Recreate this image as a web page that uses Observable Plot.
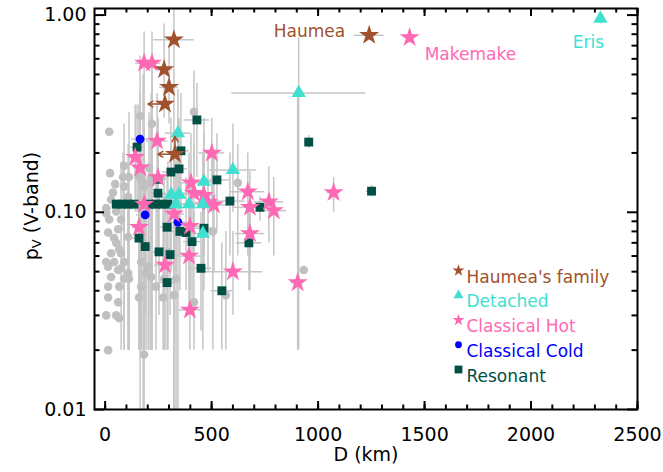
<!DOCTYPE html>
<html><head><meta charset="utf-8">
<script src="https://cdn.jsdelivr.net/npm/d3@7"></script>
<script src="https://cdn.jsdelivr.net/npm/@observablehq/plot@0.6"></script>
<style>body{margin:0;background:#fff;} svg{display:block}</style>
</head><body><div id="chart"></div>
<script>
// ---------- colours ----------
const BROWN = "#a0522d", TURQ = "#40e0d0", PINK = "#ff69b4", BLUE = "#0000ff", DKGREEN = "#005046", GREY = "#c0c0c0", ERR = "#c6c6c6";

// ---------- grey (background) sample ----------
const gD  = [19,164,220,417,23,89,47,112,216,37,108,178,623,206,84,28,159,183,89,5,19,75,61,42,108,28,66,14,75,108,28,89,14,61,52,14,183,169,216,239,277,333,417,506,567,933,216,169,202,5,52,14,52,75,5,42,89,61,112,14,66,66,5,159,272,323,169,192,295];
const gPv = [0.256,0.308,0.281,0.323,0.158,0.172,0.139,0.151,0.151,0.126,0.120,0.143,0.141,0.168,0.151,0.116,0.151,0.135,0.135,0.105,0.092,0.092,0.082,0.074,0.075,0.062,0.065,0.053,0.052,0.049,0.047,0.046,0.037,0.035,0.030,0.020,0.019,0.042,0.047,0.042,0.046,0.046,0.035,0.080,0.038,0.051,0.141,0.073,0.053,0.099,0.101,0.079,0.070,0.062,0.056,0.056,0.056,0.051,0.046,0.042,0.042,0.029,0.030,0.037,0.037,0.038,0.056,0.049,0.063];
const gLo = [null,0.09,0.02,0.12,null,0.10,null,0.02,0.02,null,0.04,0.01,0.06,0.02,0.08,null,0.02,0.02,null,null,null,0.02,null,null,0.02,null,null,null,null,0.02,null,0.02,null,null,null,null,0.01,0.02,0.02,0.02,0.02,0.01,0.02,0.02,0.02,null,0.03,0.02,0.02,null,null,null,null,null,null,null,0.02,null,0.02,null,null,null,null,0.02,0.02,0.01,0.02,0.02,0.02];
const gHi = [null,0.62,0.62,0.52,null,0.28,null,0.32,0.40,null,0.22,0.50,0.22,0.32,0.20,null,0.35,0.26,null,null,null,0.18,null,null,0.16,null,null,null,null,0.10,null,0.10,null,null,null,null,0.20,0.12,0.15,0.14,0.15,0.15,0.10,0.20,0.08,null,0.30,0.20,0.15,null,null,null,null,null,null,null,0.12,null,0.12,null,null,null,null,0.10,0.12,0.10,0.15,0.14,0.18];

// ---------- Haumea's family ----------
const hfD     = [1240, 323, 277, 300, 281, 328];
const hfPv    = [0.79, 0.75, 0.53, 0.43, 0.354, 0.197];
const hfDerr  = [70, 95, 40, 45, 0, 0];
const hfLo    = [0.74, 0.01, 0.30, 0.28, null, null];
const hfHi    = [0.84, 1.20, 0.90, 0.70, null, null];
const hfLimit = ["", "", "", "", "D", "D+pv"];

// ---------- Detached ----------
const dtD    = [2326, 909, 342, 464, 600, 310, 347, 333, 394, 459, 459];
const dtPv   = [0.96, 0.403, 0.252, 0.143, 0.164, 0.123, 0.123, 0.110, 0.110, 0.110, 0.078];
const dtDerr = [12, 314, 60, 60, 110, 50, 50, 60, 70, 80, 60];
const dtLo   = [0.90, 0.02, 0.14, 0.07, 0.10, 0.05, 0.06, 0.05, 0.05, 0.05, 0.02];
const dtHi   = [1.02, 0.77, 0.42, 0.30, 0.28, 0.22, 0.22, 0.20, 0.20, 0.20, 0.15];

// ---------- Classical Hot ----------
const chD    = [1430, 183, 220, 244, 501, 141, 164, 403, 670, 1073, 417, 464, 680, 769, 792, 511, 159, 398, 394, 281, 398, 680, 600, 904, 183, 483, 323, 248];
const chPv   = [0.77, 0.571, 0.571, 0.23, 0.20, 0.19, 0.168, 0.141, 0.127, 0.126, 0.125, 0.122, 0.106, 0.113, 0.102, 0.109, 0.084, 0.085, 0.060, 0.054, 0.032, 0.078, 0.050, 0.044, 0.110, 0.112, 0.098, 0.150];
const chDerr = [20, 40, 40, 50, 60, 30, 30, 50, 80, 30, 60, 60, 80, 70, 60, 70, 30, 60, 60, 50, 50, 70, 140, 30, 40, 60, 50, 40];
const chLo   = [0.72, 0.02, 0.02, 0.10, 0.10, 0.10, 0.08, 0.07, 0.06, 0.10, 0.06, 0.06, 0.06, 0.07, 0.06, 0.05, 0.04, 0.04, 0.03, 0.02, 0.02, 0.04, 0.03, 0.02, 0.04, 0.05, 0.02, 0.06];
const chHi   = [0.82, 0.82, 0.82, 0.40, 0.30, 0.35, 0.30, 0.25, 0.20, 0.15, 0.22, 0.25, 0.16, 0.17, 0.15, 0.20, 0.15, 0.16, 0.11, 0.12, 0.06, 0.12, 0.08, 0.40, 0.20, 0.20, 0.20, 0.30];

// ---------- Classical Cold ----------
const ccD    = [164, 188, 342];
const ccPv   = [0.235, 0.097, 0.089];
const ccDerr = [40, 40, 60];
const ccLo   = [0.01, 0.05, 0.01];
const ccHi   = [0.40, 0.16, 0.30];

// ---------- Resonant ----------
const rsD    = [431, 356, 150, 309, 347, 248, 525, 248, 956, 1251, 52, 80, 108, 136, 211, 239, 267, 295, 586, 727, 291, 351, 380, 464, 408, 159, 188, 253, 305, 450, 291, 548, 675];
const rsPv   = [0.294, 0.205, 0.214, 0.160, 0.166, 0.147, 0.146, 0.125, 0.227, 0.128, 0.11, 0.11, 0.11, 0.11, 0.11, 0.11, 0.11, 0.11, 0.114, 0.106, 0.084, 0.080, 0.079, 0.083, 0.071, 0.074, 0.067, 0.063, 0.061, 0.052, 0.044, 0.040, 0.070];
const rsDerr = [60, 40, 30, 40, 40, 40, 60, 40, 20, 25, 0, 0, 0, 0, 0, 0, 0, 0, 70, 40, 40, 40, 40, 50, 40, 30, 30, 40, 40, 50, 40, 50, 60];
const rsLo   = [0.15, 0.10, 0.10, 0.08, 0.08, 0.08, 0.08, 0.06, 0.21, 0.12, null, null, null, null, null, null, null, null, 0.06, 0.09, 0.04, 0.04, 0.04, 0.04, 0.03, 0.03, 0.03, 0.03, 0.03, 0.025, 0.02, 0.02, 0.04];
const rsHi   = [0.45, 0.40, 0.35, 0.30, 0.30, 0.30, 0.25, 0.25, 0.245, 0.137, null, null, null, null, null, null, null, null, 0.20, 0.12, 0.16, 0.15, 0.15, 0.15, 0.14, 0.14, 0.13, 0.12, 0.12, 0.10, 0.09, 0.07, 0.11];

// ---------- labels / ticks ----------
const legendLabels  = ["Haumea's family", "Detached", "Classical Hot", "Classical Cold", "Resonant"];
const legendSymbols = ["star", "triangle", "star", "circle", "square"];
const legendColors  = [BROWN, TURQ, PINK, BLUE, DKGREEN];
const legendR       = [3.8, 3.7, 3.8, 3.4, 4.4];
const namedObjects  = [
  {name: "Haumea",   D: hfD[0],  pv: hfPv[0], color: BROWN, anchor: "end",    dx: -24, dy: -4},
  {name: "Makemake", D: chD[0],  pv: chPv[0], color: PINK,  anchor: "start",  dx: 15,  dy: 17},
  {name: "Eris",     D: dtD[0],  pv: dtPv[0], color: TURQ,  anchor: "middle", dx: -12, dy: 24}
];
const xMajor = [0, 500, 1000, 1500, 2000, 2500];
const xMinor = d3.range(0, 2501, 100);
const yMajor = [0.01, 0.1, 1];
const yMinor = [0.02,0.03,0.04,0.05,0.06,0.07,0.08,0.09,0.2,0.3,0.4,0.5,0.6,0.7,0.8,0.9];
const xLabel = "D (km)";

// ---------- layout ----------
const W = 663, H = 472, ML = 94, MR = 26, MT = 8, MB = 63;
const PW = W - ML - MR, PH = H - MT - MB;

// ---------- build tables ----------
function rows(D, pv, Derr, lo, hi) {
  return D.map((d, i) => ({D: d, pv: pv[i], Derr: Derr ? Derr[i] : 0, lo: lo[i], hi: hi[i]}));
}
const grey = rows(gD, gPv, null, gLo, gHi);
const haumea = rows(hfD, hfPv, hfDerr, hfLo, hfHi).map((r, i) => ({...r, limit: hfLimit[i]}));
const detached = rows(dtD, dtPv, dtDerr, dtLo, dtHi);
const hot = rows(chD, chPv, chDerr, chLo, chHi);
const cold = rows(ccD, ccPv, ccDerr, ccLo, ccHi);
const reson = rows(rsD, rsPv, rsDerr, rsLo, rsHi);
const all = [...grey, ...haumea, ...detached, ...hot, ...cold, ...reson];
const errH = all.filter(r => r.Derr > 0);
const errV = all.filter(r => r.lo != null);

const FONT = "'DejaVu Sans', sans-serif";
const TK = {stroke: "black", strokeWidth: 2};

// inward ticks on all four sides, drawn as rules trimmed with insets
const ticksX = (vals, len) => [
  Plot.ruleX(vals, {x: d => d, insetTop: PH - len, ...TK}),
  Plot.ruleX(vals, {x: d => d, insetBottom: PH - len, ...TK})
];
const ticksY = (vals, len) => [
  Plot.ruleY(vals, {y: d => d, insetRight: PW - len, ...TK}),
  Plot.ruleY(vals, {y: d => d, insetLeft: PW - len, ...TK})
];

const marks = [
  Plot.ruleX(errV, {x: "D", y1: "lo", y2: "hi", stroke: ERR, strokeWidth: 1.5, clip: true}),
  Plot.ruleY(errH, {y: "pv", x1: d => d.D - d.Derr, x2: d => d.D + d.Derr, stroke: ERR, strokeWidth: 1.5, clip: true}),
  Plot.dot(grey, {x: "D", y: "pv", r: 4.3, fill: GREY}),
  Plot.dot(reson, {x: "D", y: "pv", symbol: "square", r: 5, fill: DKGREEN}),
  Plot.dot(cold, {x: "D", y: "pv", symbol: "circle", r: 4.4, fill: BLUE}),
  Plot.dot(hot, {x: "D", y: "pv", symbol: "star", r: 6.3, fill: PINK}),
  Plot.dot(detached, {x: "D", y: "pv", symbol: "triangle", r: 5.3, fill: TURQ}),
  Plot.arrow(haumea.filter(d => d.limit.includes("D")), {x1: "D", y1: "pv", x2: d => d.D - 80, y2: "pv", stroke: BROWN, strokeWidth: 1.5, headLength: 7}),
  Plot.arrow(haumea.filter(d => d.limit.includes("pv")), {x1: "D", y1: "pv", x2: "D", y2: d => d.pv * 1.23, stroke: BROWN, strokeWidth: 1.5, headLength: 7}),
  Plot.dot(haumea, {x: "D", y: "pv", symbol: "star", r: 6.3, fill: BROWN}),
  ...namedObjects.map(o => Plot.text([o], {x: "D", y: "pv", text: "name", fill: o.color, textAnchor: o.anchor, dx: o.dx, dy: o.dy, fontSize: 17})),
  // legend
  ...legendLabels.map((l, i) => Plot.dot([l], {frameAnchor: "top-left", dx: 364, dy: 262 + i * 24.75, symbol: legendSymbols[i], r: legendR[i], fill: legendColors[i]})),
  ...legendLabels.map((l, i) => Plot.text([l], {frameAnchor: "top-left", dx: 372, dy: 262 + i * 24.75, text: d => d, textAnchor: "start", fill: legendColors[i], fontSize: 17})),
  // ticks
  ...ticksX(xMajor, 8), ...ticksX(xMinor, 4.5),
  ...ticksY(yMajor, 10), ...ticksY(yMinor, 5.5),
  // tick labels
  Plot.axisX({anchor: "bottom", ticks: xMajor, tickSize: 0, tickPadding: 18, label: null, tickFormat: d => String(d)}),
  Plot.axisY({anchor: "left", ticks: yMajor, tickSize: 0, tickPadding: 8, label: null, tickFormat: d3.format(".2f")}),
  Plot.text([xLabel], {frameAnchor: "bottom", dy: 51, text: d => d, fontSize: 19}),
  Plot.frame({stroke: "black", strokeWidth: 2})
];

const plot = Plot.plot({
  width: W, height: H,
  marginLeft: ML, marginRight: MR, marginTop: MT, marginBottom: MB,
  style: {fontFamily: FONT, fontSize: "19px", background: "white", color: "black"},
  x: {domain: [-50, 2500]},
  y: {type: "log", domain: [0.01, 1.08]},
  marks
});
document.getElementById("chart").appendChild(plot);

// y label with subscript
const ylab = d3.select(plot).append("text")
  .attr("transform", "translate(31,206) rotate(-90)")
  .attr("text-anchor", "middle")
  .attr("dominant-baseline", "central")
  .attr("font-family", FONT).attr("font-size", 19).attr("fill", "black");
ylab.append("tspan").text("p");
ylab.append("tspan").attr("dy", 5).attr("font-size", 13).text("V");
ylab.append("tspan").attr("dy", -5).text(" (V-band)");
</script>
</body></html>
